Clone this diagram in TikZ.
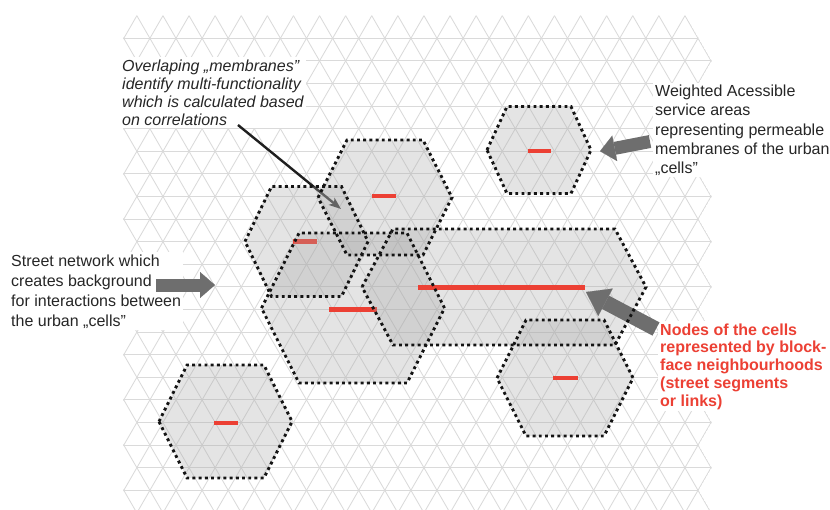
\documentclass[tikz,border=0pt]{standalone}
\usepackage{fontspec}
\setmainfont{Liberation Sans}
\usetikzlibrary{arrows.meta}
\definecolor{cellred}{RGB}{236,64,52}
\definecolor{arrowgray}{RGB}{110,110,110}
\definecolor{gridgray}{RGB}{218,218,218}
\tikzset{
  gridline/.style={draw=gridgray, line width=0.85pt},
  cellfill/.style={fill=black!35, fill opacity=0.3},
  cellborder/.style={draw=black!92, line width=2.9pt, dash pattern=on 2.9pt off 3.3pt, line join=miter},
  cellnode/.style={draw=cellred, line width=4.6pt},
  note/.style={fill=white, inner sep=2pt, align=left, text=black!85},
  blockarrow/.style={draw=arrowgray, line width=13pt, -{Triangle[length=15pt,width=26pt,line width=0.1pt]}},
  bigblockarrow/.style={draw=arrowgray, line width=15pt, -{Triangle[length=22pt,width=31pt,line width=0.1pt]}},
  pointer/.style={draw=black!88, line width=2.4pt, -{Stealth[length=12pt,width=9pt,inset=3pt]}}
}
\newcommand\hexfill[5]{\fill[cellfill] (#1-#3,#2) -- (#1-#4,#2-#5) -- (#1+#4,#2-#5) -- (#1+#3,#2) -- (#1+#4,#2+#5) -- (#1-#4,#2+#5) -- cycle;}
\newcommand\hexline[5]{\draw[cellborder] (#1-#3,#2) -- (#1-#4,#2-#5) -- (#1+#4,#2-#5) -- (#1+#3,#2) -- (#1+#4,#2+#5) -- (#1-#4,#2+#5) -- cycle;}
\begin{document}
\begin{tikzpicture}[x=1pt,y=-1pt]
\useasboundingbox (0,0) rectangle (830,509);
% ---------- triangular street grid ----------
\begin{scope}
\clip (136.15,15.2) -- (123.1,38.3) -- (136.15,60.9) -- (123.1,83.5) -- (136.15,106.1) -- (123.1,128.7)
 -- (136.15,151.3) -- (123.1,173.9) -- (136.15,196.5) -- (123.1,219.1) -- (136.15,241.7) -- (123.1,264.3)
 -- (136.15,286.9) -- (123.1,309.5) -- (136.15,332.1) -- (123.1,354.7) -- (136.15,377.3) -- (123.1,399.9)
 -- (136.15,422.5) -- (123.1,445.1) -- (136.15,467.7) -- (123.1,490.3) -- (136.15,512.9)
 -- (711.75,512.9) -- (698.7,490.3) -- (711.75,467.7) -- (698.7,445.1) -- (711.75,422.5) -- (698.7,399.9)
 -- (711.75,377.3) -- (698.7,354.7) -- (711.75,332.1) -- (698.7,309.5) -- (711.75,286.9) -- (698.7,264.3)
 -- (711.75,241.7) -- (698.7,219.1) -- (711.75,196.5) -- (698.7,173.9) -- (711.75,151.3) -- (698.7,128.7)
 -- (711.75,106.1) -- (698.7,83.5) -- (711.75,60.9) -- (698.7,38.3) -- (685.65,15.2) -- cycle;
\foreach \n in {-12,...,22} {\draw[gridline] (136.85+26.1*\n,15.7) -- ++(287.1,497.2);}
\foreach \n in {-1,...,33} {\draw[gridline] (136.85+26.1*\n,15.7) -- ++(-287.1,497.2);}
\end{scope}
\foreach \k in {0,2,...,20} {\draw[gridline] (123.8,38.3+22.6*\k) -- (698,38.3+22.6*\k);}
\foreach \k in {1,3,...,19} {\draw[gridline] (136.85,38.3+22.6*\k) -- (711.05,38.3+22.6*\k);}
% ---------- texts (anchored at the baseline of their last line) ----------
\node[note, anchor=base west, font=\fontsize{16}{18.3}\selectfont\itshape] (overlap) at (120,125.9)
  {Overlaping „membranes”\\identify multi-functionality\\which is calculated based\\on correlations};
\node[note, anchor=base west, font=\fontsize{16}{20}\selectfont] (street) at (9,326)
  {Street network which\\creates background\\for interactions between\\the urban „cells”};
\node[note, anchor=base west, font=\fontsize{16}{19.15}\selectfont] (wasa) at (653,173.3)
  {Weighted Acessible\\service areas\\representing permeable\\membranes of the urban\\„cells”};
\node[note, anchor=base west, font=\fontsize{16}{17.75}\selectfont\bfseries, text=cellred] (cellnodes) at (658,406)
  {Nodes of the cells\\represented by block-\\face neighbourhoods\\(street segments\\or links)};
% ---------- pointer under the membranes ----------
\coordinate (ovlstart) at (238,125);
\coordinate (ovltip) at (341,209);
\draw[pointer] (ovlstart) -- (ovltip);
% ---------- cell fills ----------
\hexfill{539}{150}{52}{32}{43.5}
\hexfill{385}{197.5}{67}{38}{57.5}
\hexfill{306.5}{241.5}{61.5}{35}{55}
\draw[cellnode] (293,241.5) -- (317,241.5);
\hexfill{353}{308}{91.5}{54}{75}
\draw[cellnode] (329,309.5) -- (377,309.5);
\hexfill{504}{287}{142}{111}{58}
\hexfill{565}{378}{68}{39}{58}
\hexfill{225.5}{421.5}{66.5}{38.5}{56.5}
% ---------- cell nodes ----------
\draw[cellnode] (528,151) -- (551,151);
\draw[cellnode] (372,196) -- (396,196);
\draw[cellnode] (418,287.5) -- (585,287.5);
\draw[cellnode] (553,378) -- (578,378);
\draw[cellnode] (214,423) -- (238,423);
% ---------- block arrows ----------
\coordinate (wtail) at (650,141.5);
\coordinate (wtip) at (600,151.2);
\draw[blockarrow] (wtail) -- (wtip);
\coordinate (stail) at (156,285);
\coordinate (stip) at (215,285);
\draw[blockarrow] (stail) -- (stip);
\coordinate (ntail) at (656,329);
\coordinate (ntip) at (586,292);
\draw[bigblockarrow] (ntail) -- (ntip);
% ---------- cell borders ----------
\hexline{539}{150}{52}{32}{43.5}
\hexline{385}{197.5}{67}{38}{57.5}
\hexline{306.5}{241.5}{61.5}{35}{55}
\hexline{353}{308}{91.5}{54}{75}
\hexline{504}{287}{142}{111}{58}
\hexline{565}{378}{68}{39}{58}
\hexline{225.5}{421.5}{66.5}{38.5}{56.5}
\end{tikzpicture}
\end{document}
